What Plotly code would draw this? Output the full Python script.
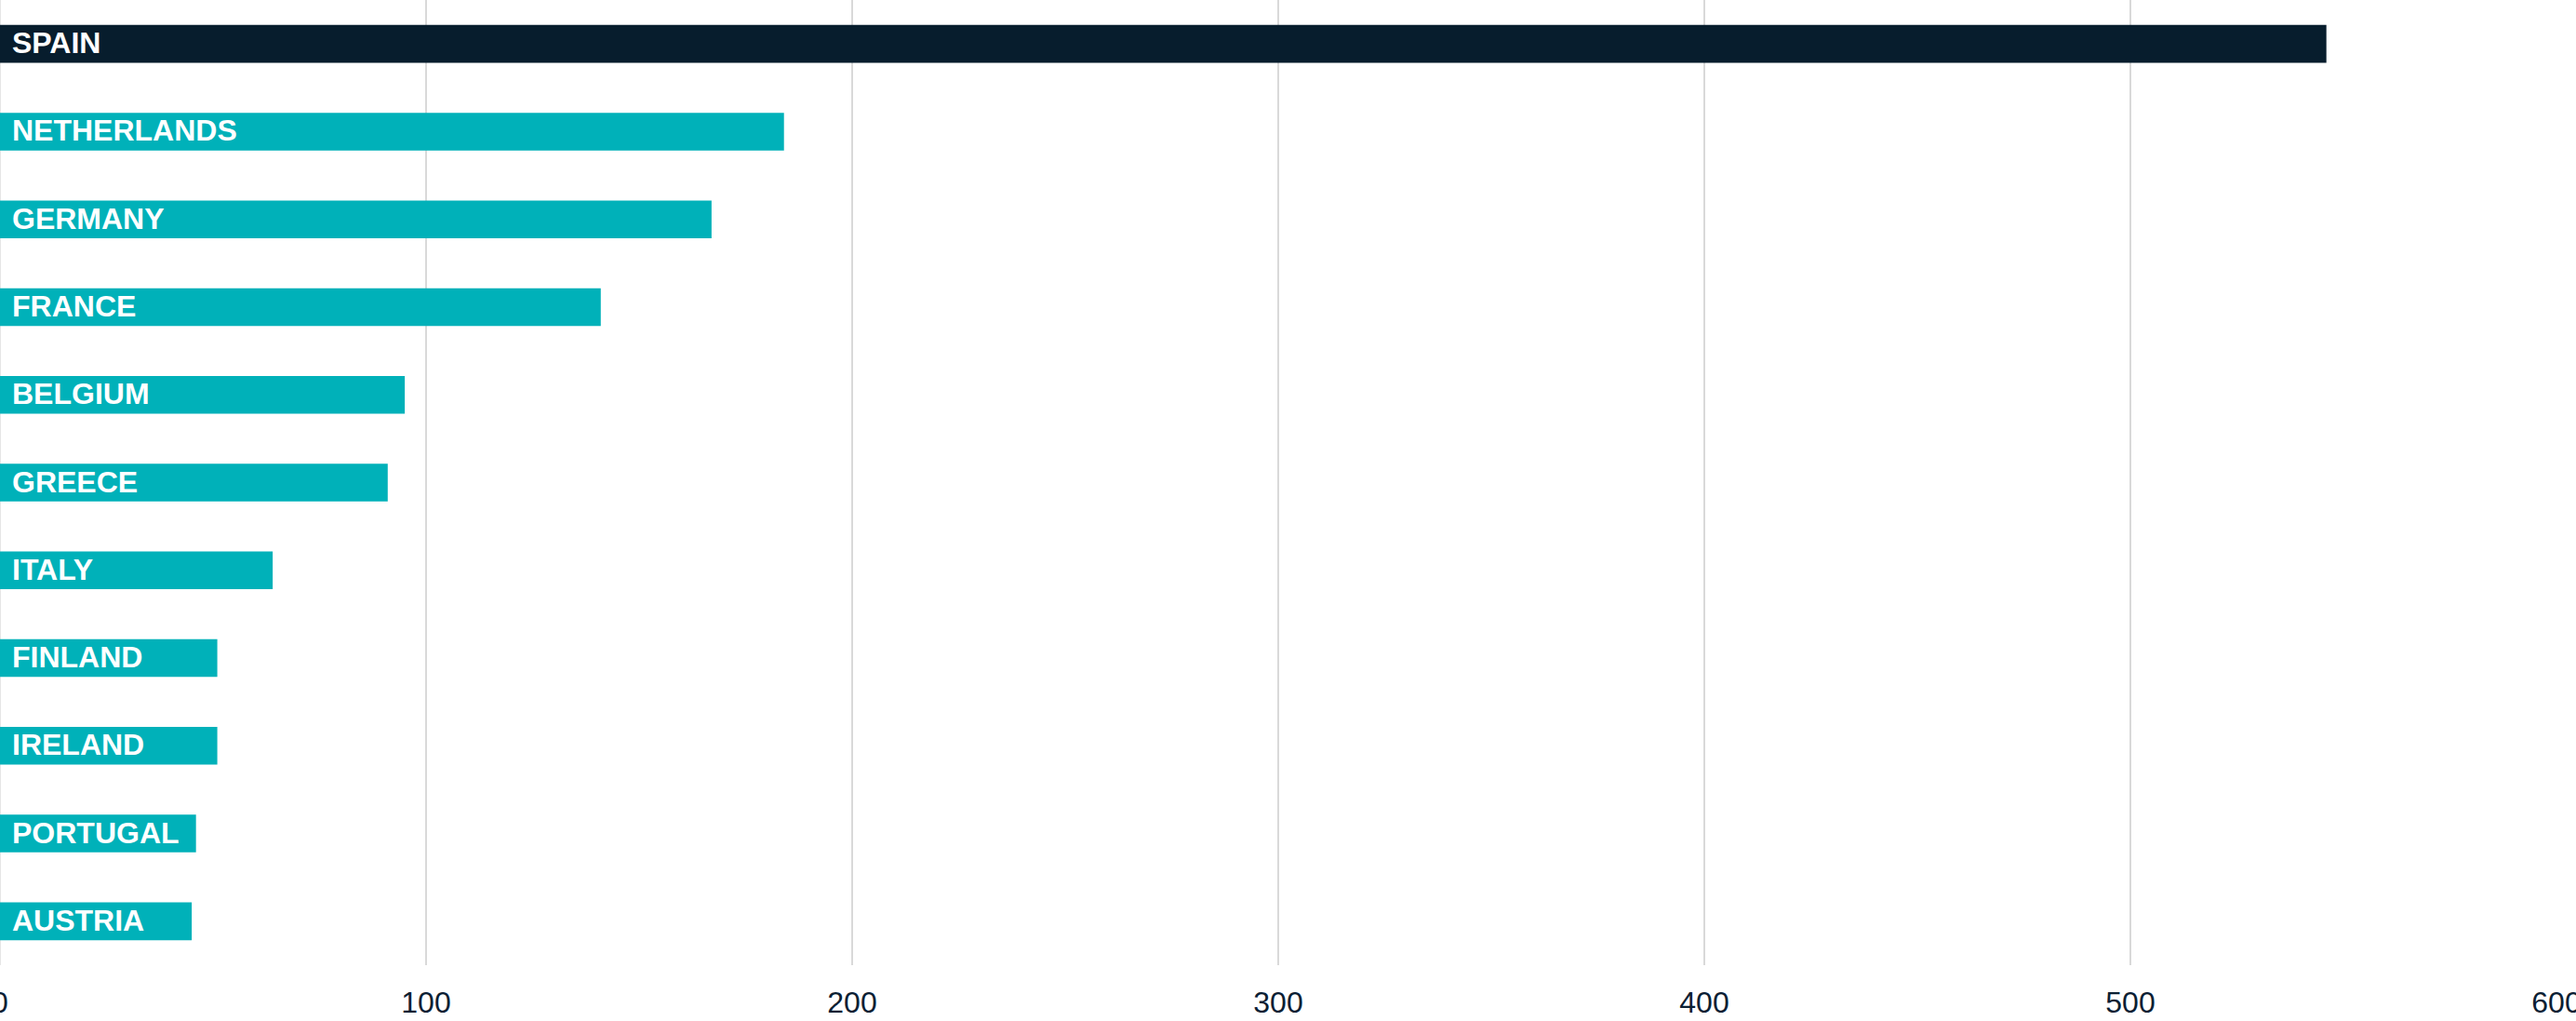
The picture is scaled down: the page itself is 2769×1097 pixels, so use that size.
import plotly.graph_objects as go

countries = ["SPAIN", "NETHERLANDS", "GERMANY", "FRANCE", "BELGIUM", "GREECE",
             "ITALY", "FINLAND", "IRELAND", "PORTUGAL", "AUSTRIA"]
values = [546, 184, 167, 141, 95, 91, 64, 51, 51, 46, 45]
tick_vals = [0, 100, 200, 300, 400, 500, 600]

DARK = "#071d2d"
TEAL = "#00b1b9"
colors = [DARK] + [TEAL] * (len(countries) - 1)

fig = go.Figure()
fig.add_trace(go.Bar(
    x=values, y=countries, orientation="h",
    marker=dict(color=colors, line=dict(width=0)),
    width=0.43, hoverinfo="x+y",
))

for c in countries:
    fig.add_annotation(
        x=0, y=c, xref="x", yref="y", text=c, showarrow=False,
        xanchor="left", yanchor="middle", xshift=11, yshift=1,
        font=dict(family="Liberation Sans, Arial, sans-serif", size=32, color="white", weight="bold"),
    )

fig.update_layout(
    width=2769, height=1097,
    margin=dict(l=0, r=21, t=0, b=60),
    paper_bgcolor="white", plot_bgcolor="white",
    showlegend=False,
    xaxis=dict(
        range=[0, 600], tickvals=tick_vals, ticktext=[str(v) for v in tick_vals],
        showgrid=True, gridcolor="#d9d9d9", gridwidth=2,
        zeroline=True, zerolinecolor="#e6e6e6", zerolinewidth=2,
        showline=False, ticks="", ticklabelstandoff=18,
        ticklabeloverflow="allow",
        tickfont=dict(family="Liberation Sans, Arial, sans-serif", size=32, color="#0b2033"),
        automargin=False, fixedrange=True,
    ),
    yaxis=dict(
        categoryorder="array", categoryarray=countries,
        showticklabels=False, showgrid=False,
        zeroline=False, showline=False, ticks="", automargin=False,
        range=[10.5, -0.5],
    ),
)

fig.write_html(
    "out.html",
    config={"displayModeBar": False},
    post_script="document.body.style.margin='0';document.body.style.overflow='hidden';",
)
